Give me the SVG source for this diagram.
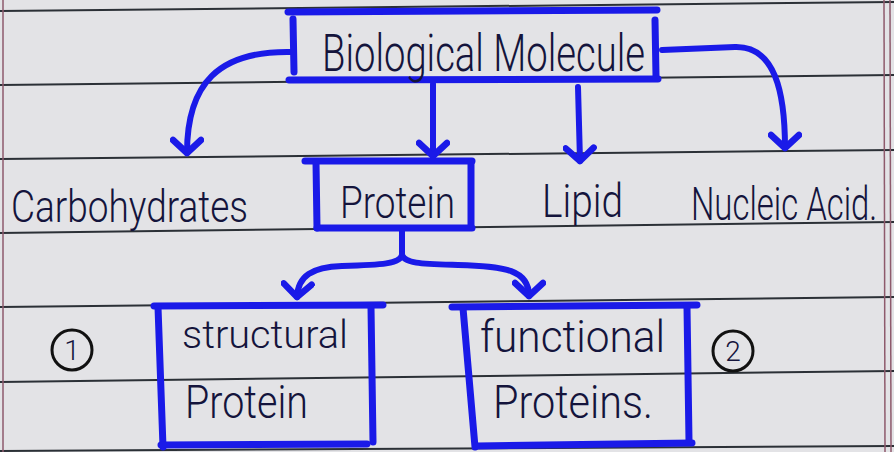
<svg xmlns="http://www.w3.org/2000/svg" width="894" height="452" viewBox="0 0 894 452">
  <defs>
    <marker id="ah" markerUnits="userSpaceOnUse" viewBox="-18 -17 22 34" markerWidth="22" markerHeight="34" refX="0" refY="0" orient="auto">
      <path d="M-13,-14 L0,0 L-13,14" fill="none" stroke="#1a1ae8" stroke-width="6.5" stroke-linecap="round" stroke-linejoin="round"/>
    </marker>
  </defs>
  <style>
    .paper { fill: #e3e3e6; }
    .rule { stroke: #2b3036; stroke-width: 2; fill: none; }
    .margin { stroke: #8e5a6c; stroke-width: 1.5; fill: none; }
    .box { stroke: #1a1ae8; stroke-width: 7; stroke-linecap: round; fill: none; }
    .conn { stroke: #1a1ae8; stroke-width: 6; stroke-linecap: round; fill: none; }
    .arrow { marker-end: url(#ah); }
    .hw { font-family: Roboto, "Liberation Sans", sans-serif; font-weight: 300; fill: #14143c; }
    .num { stroke: #111; stroke-width: 3; fill: none; }
  </style>

  <rect class="paper" x="0" y="0" width="894" height="452"/>

  <g id="paper-lines">
    <line class="rule" x1="0" y1="11" x2="894" y2="2"/>
    <line class="rule" x1="0" y1="85" x2="894" y2="75"/>
    <line class="rule" x1="0" y1="159" x2="894" y2="150"/>
    <line class="rule" x1="0" y1="233" x2="894" y2="222"/>
    <line class="rule" x1="0" y1="307" x2="894" y2="297"/>
    <line class="rule" x1="0" y1="382" x2="894" y2="371"/>
    <line class="rule" x1="0" y1="451" x2="894" y2="446"/>
    <line class="margin" x1="3" y1="0" x2="3" y2="452"/>
    <line class="margin" x1="884" y1="0" x2="885" y2="452"/>
    <line class="margin" x1="890" y1="0" x2="891" y2="452"/>
  </g>

  <g id="connectors">
    <path class="conn arrow" d="M293,52 C218,50 187,84 187,153"/>
    <path class="conn arrow" d="M433,84 L433,156"/>
    <path class="conn arrow" d="M578,87 L580,161"/>
    <path class="conn arrow" d="M662,50 L735,47 C775,46 785,92 785,148"/>
    <path class="conn" d="M402,230 L402,254"/>
    <path class="conn arrow" d="M402,254 C402,264 380,265 342,266 C312,267 298,276 297,297"/>
    <path class="conn arrow" d="M402,254 C403,264 425,264 458,265 C505,266 529,270 529,296"/>
  </g>

  <g id="biological-molecule">
    <path class="box" d="M288,12 L657,10"/>
    <path class="box" d="M293,19 L294,72"/>
    <path class="box" d="M655,20 L656,76"/>
    <path class="box" d="M289,80 L658,79"/>
    <text class="hw" x="322" y="71" font-size="52" textLength="323" lengthAdjust="spacingAndGlyphs">Biological Molecule</text>
  </g>

  <g id="carbohydrates">
    <text class="hw" x="11" y="222" font-size="44" textLength="237" lengthAdjust="spacingAndGlyphs">Carbohydrates</text>
  </g>

  <g id="protein">
    <path class="box" d="M305,161 L472,161"/>
    <path class="box" d="M316,162 L317,228"/>
    <path class="box" d="M471,162 L471,225"/>
    <path class="box" d="M317,228 L472,228"/>
    <text class="hw" x="340" y="218" font-size="45" textLength="115" lengthAdjust="spacingAndGlyphs">Protein</text>
  </g>

  <g id="lipid">
    <text class="hw" x="542" y="217" font-size="46" textLength="81" lengthAdjust="spacingAndGlyphs">Lipid</text>
  </g>

  <g id="nucleic-acid">
    <text class="hw" transform="translate(691,220) scale(0.7,1)" x="0" y="0" font-size="46" textLength="266" lengthAdjust="spacingAndGlyphs">Nucleic Acid.</text>
  </g>

  <g id="structural-protein">
    <path class="box" d="M154,306 L383,305"/>
    <path class="box" d="M158,307 L163,447"/>
    <path class="box" d="M371,307 L373,442"/>
    <path class="box" d="M161,445 L367,444"/>
    <text class="hw" x="182" y="348" font-size="38" textLength="166" lengthAdjust="spacingAndGlyphs">structural</text>
    <text class="hw" x="185" y="418" font-size="46" textLength="123" lengthAdjust="spacingAndGlyphs">Protein</text>
  </g>

  <g id="functional-proteins">
    <path class="box" d="M452,307 L697,305"/>
    <path class="box" d="M463,308 L475,447"/>
    <path class="box" d="M687,307 L689,441"/>
    <path class="box" d="M477,446 L692,443"/>
    <text class="hw" x="480" y="352" font-size="44" textLength="185" lengthAdjust="spacingAndGlyphs">functional</text>
    <text class="hw" x="493" y="418" font-size="46" textLength="160" lengthAdjust="spacingAndGlyphs">Proteins.</text>
  </g>

  <g id="marker-1">
    <circle class="num" cx="72" cy="350" r="20"/>
    <text class="hw" x="72" y="360" font-size="28" font-weight="500" text-anchor="middle">1</text>
  </g>

  <g id="marker-2">
    <circle class="num" cx="733" cy="351" r="20"/>
    <text class="hw" x="733" y="361" font-size="28" font-weight="500" text-anchor="middle">2</text>
  </g>
</svg>
